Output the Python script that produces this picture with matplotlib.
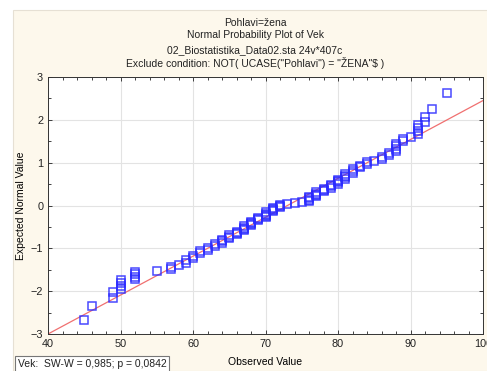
import matplotlib.pyplot as plt
from matplotlib.patches import Rectangle
from matplotlib.ticker import MultipleLocator

plt.rcParams['font.family'] = ['Liberation Sans', 'DejaVu Sans']

# observed ages (Vek) and expected normal values
ages = [45, 46, 49, 49, 50, 50, 50, 50, 52, 52, 52, 52, 55, 57, 57, 58, 59, 59,
        60, 60, 61, 61, 62, 62, 63, 63, 64, 64, 64, 65, 65, 65, 66, 66, 66,
        67, 67, 67, 67, 68, 68, 68, 68, 69, 69, 69, 70, 70, 70, 70, 70,
        71, 71, 71, 71, 72, 72, 72, 73, 74, 75, 76, 76, 76, 76, 77, 77, 77, 77,
        78, 78, 78, 79, 79, 79, 80, 80, 80, 80, 81, 81, 81, 81, 82, 82, 82,
        83, 83, 84, 84, 85, 86, 86, 87, 87, 88, 88, 88, 88, 89, 89, 90,
        91, 91, 91, 91, 92, 92, 93, 95]
expected = [-2.67, -2.35, -2.15, -2.02, -1.95, -1.88, -1.81, -1.74, -1.72, -1.66,
            -1.61, -1.56, -1.52, -1.49, -1.43, -1.39, -1.34, -1.28,
            -1.23, -1.17, -1.12, -1.07, -1.03, -0.99, -0.95, -0.91, -0.87, -0.83,
            -0.80, -0.76, -0.73, -0.70, -0.67, -0.64, -0.61,
            -0.58, -0.55, -0.52, -0.49, -0.46, -0.43, -0.40, -0.38, -0.35, -0.32,
            -0.30, -0.27, -0.24, -0.22, -0.19, -0.16,
            -0.14, -0.11, -0.09, -0.06, -0.04, -0.01, 0.01, 0.04, 0.06, 0.09,
            0.11, 0.14, 0.17, 0.20, 0.22, 0.25, 0.28, 0.31,
            0.33, 0.36, 0.39, 0.42, 0.45, 0.48, 0.51, 0.54, 0.57, 0.60,
            0.63, 0.67, 0.70, 0.74, 0.77, 0.81, 0.85,
            0.89, 0.93, 0.97, 1.01, 1.05, 1.09, 1.13, 1.18, 1.23,
            1.28, 1.33, 1.38, 1.44, 1.50, 1.55, 1.60,
            1.66, 1.73, 1.80, 1.87, 1.96, 2.07, 2.25, 2.62]

# reference line endpoints
line_x = [40, 100]
line_y = [-3.0, 2.45]

title_lines = ["Pohlavi=žena", "Normal Probability Plot of Vek",
               "02_Biostatistika_Data02.sta 24v*407c",
               'Exclude condition: NOT( UCASE("Pohlavi") = "ŽENA"$ )']
stat_text = "Vek:  SW-W = 0,985; p = 0,0842"

fig = plt.figure(figsize=(4.87, 3.71), dpi=100)
fig.patch.set_facecolor('white')

# cream panel behind the chart
panel = Rectangle((13 / 487, 0), 1, 1 - 10 / 371, transform=fig.transFigure,
                  facecolor='#fdf8ec', edgecolor='#e6e0d4', lw=0.8, zorder=-5)
fig.add_artist(panel)

ax = fig.add_axes([48 / 487, 37 / 371, 435 / 487, 257 / 371])
ax.set_facecolor('white')
ax.set_xlim(40, 100)
ax.set_ylim(-3, 3)
ax.xaxis.set_major_locator(MultipleLocator(10))
ax.xaxis.set_minor_locator(MultipleLocator(2))
ax.yaxis.set_major_locator(MultipleLocator(1))
ax.yaxis.set_minor_locator(MultipleLocator(0.5))
ax.tick_params(which='both', direction='in', top=True, right=True, labelsize=7.8,
               colors='#222222', width=0.6)
ax.tick_params(which='major', length=3)
ax.tick_params(which='minor', length=2)
ax.grid(True, which='major', color='#e3e3e3', lw=0.8)
ax.set_axisbelow(True)
for s in ax.spines.values():
    s.set_color('#333333')
    s.set_linewidth(0.7)

ax.plot(line_x, line_y, color='#f07070', lw=0.9, zorder=2)
ax.plot(ages, expected, linestyle='none', marker='s', markersize=5.5,
        markerfacecolor='none', markeredgecolor='#2a2aff', markeredgewidth=1.1,
        alpha=0.85, zorder=3)

ax.set_xlabel("Observed Value", fontsize=7.5, labelpad=6)
ax.set_ylabel("Expected Normal Value", fontsize=7.5, labelpad=3)

ys = [23, 35, 50, 63]
for t, y in zip(title_lines, ys):
    fig.text(255 / 487, 1 - y / 371, t, ha='center', va='center', fontsize=7.5,
             color='#222222')

fig.text(18 / 487, 1 - 364 / 371, stat_text, ha='left', va='center', fontsize=7.5,
         color='#222222',
         bbox=dict(boxstyle='square,pad=0.25', facecolor='white', edgecolor='#777777', lw=0.8))

fig.savefig("out.png", dpi=100)
